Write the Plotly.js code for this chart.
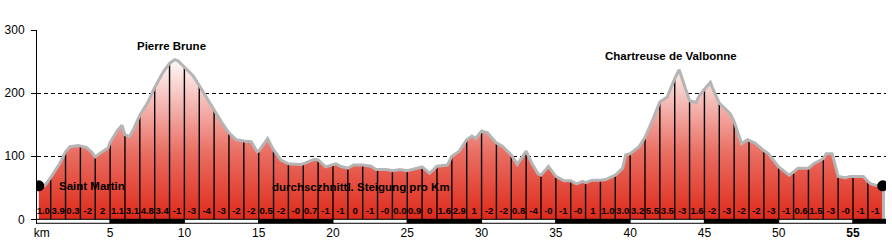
<!DOCTYPE html>
<html>
<head>
<meta charset="utf-8">
<script src="https://cdn.plot.ly/plotly-3.0.1.min.js"></script>
<style>html,body{margin:0;padding:0;background:#fff;}#chart{width:892px;height:245px;}</style>
</head>
<body>
<div id="chart"></div>
<script>
// Distance (km) and elevation (m) of the profile
const distKm = [0.2,0.6,1,1.6,2,2.3,2.85,3,3.4,3.74,4,4.4,4.86,5,5.5,5.8,6,6.3,6.54,7,7.55,8,8.56,9,9.34,9.57,10,10.57,11,11.47,12,12.5,13,13.5,14,14.5,14.9,15,15.6,16,16.5,16.85,17,17.86,18,18.75,19,19.5,20,20.2,20.5,21,21.4,22,22.56,22.9,23,23.6,24,24.5,25,26,26.5,27,27.7,28,28.5,28.7,29,29.35,29.6,30,30.4,31,31.4,32,32.4,33,33.4,33.8,34,34.5,35,35.55,36,36.4,36.8,37,37.45,38,38.35,39,39.5,39.7,40,40.6,41,41.5,42,42.5,42.8,43,43.3,43.5,43.85,44,44.45,44.6,45,45.4,45.6,46,46.75,47,47.5,47.9,48,48.4,49,49.3,50,50.7,51,51.3,52,52.35,53,53.2,53.6,54,54.5,54.8,55,55.7,56,56.15,56.5,57];
const elevation = [53,53,66,88,107,115,117,116,114,107,99,106,113,122,141,149,134,131,141,165,186,209,233,247,253,251,241,228,212,194,173,154,137,126,124,123,107,108,128,110,94,89,88,87,88,95,94,83,87,88,84,81,86,86,84,79,79,79,77,79,77,83,73,84,86,100,108,115,126,132,128,140,137,121,116,102,87,108,88,72,70,84,68,61,61,56,60,58,62,62,63,70,81,102,104,115,130,157,186,194,212,223,237,223,196,188,185,194,206,217,205,184,167,155,120,126,125,121,109,104,83,70,75,81,81,88,96,104,104,68,66,68,68,68,60,57,54,53];
// Average gradient per km
const grades = ["1.0","3.9","0.3","-2","2","1.1","3.1","4.8","3.4","-1","-3","-4","-3","-2","-2","0.5","-2","-0","0.7","-1","-1","0","-1","-0","0.0","0.9","0","1.6","2.9","1","-2","-2","0.8","-4","-0","-1","-0","1","1.0","3.0","3.2","5.5","3.5","-3","1.6","-2","-3","-2","-2","-3","-1","0.6","1.5","-3","-0","-1","-1"];
// Axis ticks
const xTickVals = [0.4,5,10,15,20,25,30,35,40,45,50,55];
const xTickText = ["km","5","10","15","20","25","30","35","40","45","50","<b>55</b>"];
const yTickVals = [0,100,200,300];
// Place names
const placeNames = ["Pierre Brune","Chartreuse de Valbonne","Saint Martin","durchsczhnittl. Steigung pro Km"];
const placeKm = [9.1,42.75,1.4,21.9];
const placeElev = [275,259,53,51];
const placeAnchor = ["center","center","left","center"];

const X_MAX = 57.22, X_MIN = 0.08, BAR_H = 6.3;

// vertical km lines
const vx = [], vy = [];
distKm.forEach((d,i)=>{ if (Number.isInteger(d) && d>0) { vx.push(d,d,null); vy.push(0,elevation[i],null); }});

const lastX = distKm[distKm.length-1];
const traces = [
  {x: distKm, y: elevation, type:'scatter', mode:'lines', fill:'tozeroy', line:{width:0, color:'rgba(0,0,0,0)'},
   fillgradient:{type:'vertical', start:0, stop:258, colorscale:[[0,'rgb(222,42,26)'],[0.4,'rgb(233,108,96)'],[1,'rgb(255,255,255)']]},
   hoverinfo:'skip'},
  {x: vx, y: vy, type:'scatter', mode:'lines', line:{color:'#000', width:1.4}, hoverinfo:'skip'},
  {x: distKm.concat([lastX+0.05, lastX+0.05]), y: elevation.concat([elevation[elevation.length-1], 0]), type:'scatter', mode:'lines', line:{color:'#b5b5b5', width:3}, hoverinfo:'skip'},
  {x: [distKm[0], lastX], y: [elevation[0], elevation[elevation.length-1]], type:'scatter', mode:'markers', marker:{color:'#000', size:11}, hoverinfo:'skip'},
  {x: grades.map((g,i)=>i+0.5), y: grades.map(()=>11.5), text: grades, type:'scatter', mode:'text',
   textfont:{family:'Liberation Sans, Arial', size:9.5, color:'#000', weight:'bold'}, hoverinfo:'skip'}
];

const shapes = [];
for (let i=0; i*5 < X_MAX; i++) {
  shapes.push({type:'rect', xref:'x', yref:'y', x0:i*5, x1:Math.min((i+1)*5, X_MAX), y0:-BAR_H, y1:0,
    fillcolor: i%2 ? '#000' : '#fff', line:{color:'#000', width:1}, layer:'above'});
}

const annotations = placeNames.map((t,i)=>({x:placeKm[i], y:placeElev[i], xref:'x', yref:'y', text:t, showarrow:false,
  xanchor:placeAnchor[i], yanchor:'middle', font:{family:'Liberation Sans, Arial', size:11.5, color:'#000', weight:'bold'}}));

const layout = {
  width:892, height:245,
  margin:{l:37, r:6, t:30, b:21, pad:0},
  paper_bgcolor:'#fff', plot_bgcolor:'#fff',
  showlegend:false,
  font:{family:'Liberation Sans, Arial', size:12, color:'#000'},
  xaxis:{range:[X_MIN, X_MAX], showgrid:false, zeroline:false, showline:false, tickmode:'array', tickvals:xTickVals, ticktext:xTickText,
    ticks:'', tickfont:{size:12, color:'#000'}, fixedrange:true},
  yaxis:{range:[-7.45, 300], tickmode:'array', tickvals:yTickVals, showgrid:true, gridcolor:'#000', gridwidth:1, griddash:'4px,3px',
    zeroline:false, showline:true, linecolor:'#000', linewidth:1, ticks:'outside', ticklen:5, tickcolor:'#000', ticklabelstandoff:4,
    tickfont:{size:12, color:'#000'}, fixedrange:true},
  shapes: shapes,
  annotations: annotations
};

Plotly.newPlot('chart', traces, layout, {displayModeBar:false, staticPlot:true});
</script>
</body>
</html>
